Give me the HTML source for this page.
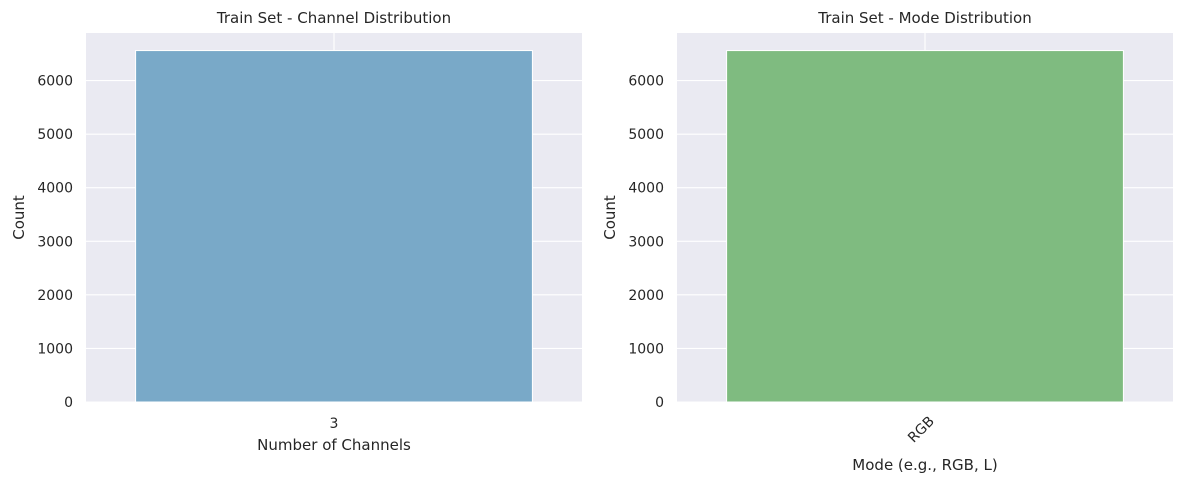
<!DOCTYPE html>
<html><head><meta charset="utf-8"><style>
body{margin:0;background:#fff;font-family:"Liberation Sans","DejaVu Sans",sans-serif;}
svg text{font-family:"DejaVu Sans","Liberation Sans",sans-serif;fill:#262626;}
</style></head><body>
<svg id="c" width="1183" height="484"></svg>
<script>
const leftCats=["3"];
const leftVals=[6560];
const rightCats=["RGB"];
const rightVals=[6560];
const yTicks=[0,1000,2000,3000,4000,5000,6000];
const NS="http://www.w3.org/2000/svg";
const svg=document.getElementById('c');
function mk(t,a,p){const e=document.createElementNS(NS,t);for(const k in a)e.setAttribute(k,a[k]);(p||svg).appendChild(e);return e;}
function panel(x0,x1,cats,vals,color,title,xlabel,rot,name){
  const y0=33,y1=402;
  const g=mk('g',{});
  
  
  const ymax=Math.max(...vals)*1.05;
  const ys=v=>y1-(v/ymax)*(y1-y0);
  const n=cats.length;
  const xs=i=>x0+(i+0.5)/n*(x1-x0);
  const bg=mk('rect',{x:x0,y:y0,width:x1-x0,height:y1-y0,fill:'#eaeaf2'},g);
  
  yTicks.forEach(t=>{
    const l=mk('line',{x1:x0,x2:x1,y1:ys(t),y2:ys(t),stroke:'#fff','stroke-width':1.1},g);
    
    const tx=mk('text',{x:x0-13,y:ys(t)+5,'text-anchor':'end','font-size':14},g);
    tx.textContent=t;
    
  });
  cats.forEach((c,i)=>{
    const l=mk('line',{x1:xs(i),x2:xs(i),y1:y0,y2:y1,stroke:'#fff','stroke-width':1.1},g);
    
  });
  cats.forEach((c,i)=>{
    const w=0.8*(x1-x0)/n;
    const b=mk('rect',{x:xs(i)-w/2,y:ys(vals[i]),width:w,height:y1-ys(vals[i]),fill:color,stroke:'#fff','stroke-width':1},g);
    
    let tx;
    if(rot){const ax=xs(i)+10,ay=y1+20;tx=mk('text',{x:ax,y:ay,'text-anchor':'end','font-size':14,transform:`rotate(-45 ${ax} ${ay})`},g);}
    else tx=mk('text',{x:xs(i),y:y1+26,'text-anchor':'middle','font-size':14},g);
    tx.textContent=c;
    
  });
  const tt=mk('text',{x:(x0+x1)/2,y:y0-10,'text-anchor':'middle','font-size':15},g);
  tt.textContent=title;
  const xl=mk('text',{x:(x0+x1)/2,y:rot?470:450,'text-anchor':'middle','font-size':15},g);
  xl.textContent=xlabel;
  const yl=mk('text',{x:x0-62,y:(y0+y1)/2,'text-anchor':'middle','font-size':15,transform:`rotate(-90 ${x0-62} ${(y0+y1)/2})`},g);
  yl.textContent='Count';
}
panel(86,582,leftCats,leftVals,'#79a9c8','Train Set - Channel Distribution','Number of Channels',false,'channel-panel');
panel(677,1173,rightCats,rightVals,'#7fbb80','Train Set - Mode Distribution','Mode (e.g., RGB, L)',true,'mode-panel');
</script>
</body></html>
